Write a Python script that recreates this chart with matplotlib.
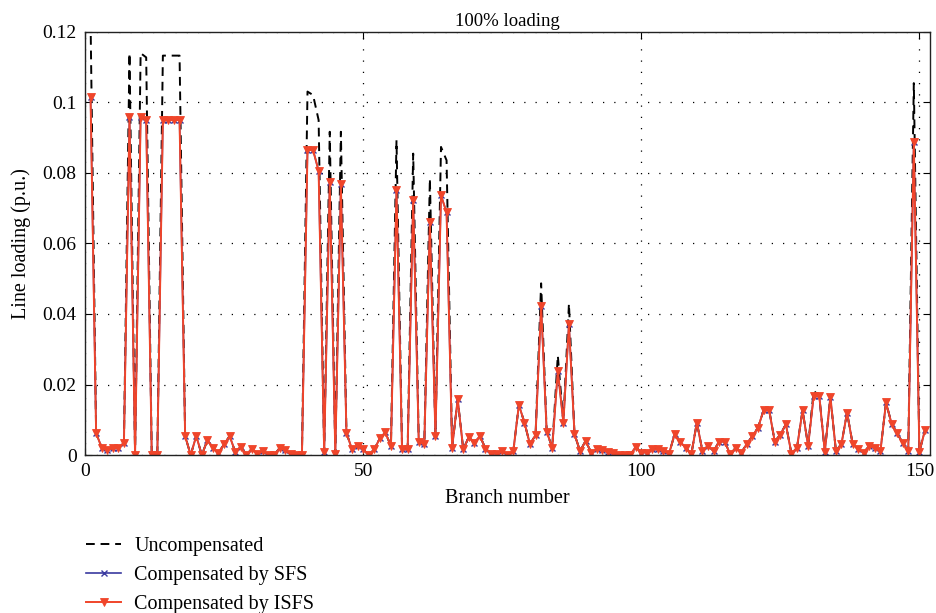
import matplotlib
matplotlib.use("Agg")
import matplotlib.pyplot as plt
import numpy as np

branches = list(range(1, 152))

compensated = [
    0.1016, 0.0062, 0.0021, 0.0013, 0.0020, 0.0020, 0.0035, 0.0960, 0.0000, 0.0960,
    0.0950, 0.0000, 0.0000, 0.0950, 0.0950, 0.0950, 0.0950, 0.0054, 0.0000, 0.0054,
    0.0000, 0.0042, 0.0021, 0.0007, 0.0030, 0.0054, 0.0009, 0.0024, 0.0000, 0.0018,
    0.0002, 0.0011, 0.0000, 0.0000, 0.0020, 0.0013, 0.0002, 0.0000, 0.0000, 0.0865,
    0.0865, 0.0806, 0.0008, 0.0774, 0.0004, 0.0768, 0.0063, 0.0016, 0.0026, 0.0016,
    0.0000, 0.0016, 0.0047, 0.0064, 0.0025, 0.0751, 0.0016, 0.0016, 0.0723, 0.0038,
    0.0030, 0.0661, 0.0054, 0.0737, 0.0688, 0.0021, 0.0158, 0.0016, 0.0051, 0.0035,
    0.0054, 0.0018, 0.0004, 0.0004, 0.0011, 0.0000, 0.0011, 0.0142, 0.0092, 0.0030,
    0.0057, 0.0424, 0.0066, 0.0021, 0.0239, 0.0092, 0.0372, 0.0059, 0.0011, 0.0040,
    0.0007, 0.0016, 0.0014, 0.0008, 0.0005, 0.0000, 0.0000, 0.0000, 0.0023, 0.0007,
    0.0007, 0.0016, 0.0016, 0.0011, 0.0004, 0.0059, 0.0037, 0.0021, 0.0002, 0.0092,
    0.0011, 0.0026, 0.0011, 0.0038, 0.0038, 0.0002, 0.0021, 0.0007, 0.0032, 0.0054,
    0.0078, 0.0127, 0.0127, 0.0038, 0.0058, 0.0087, 0.0004, 0.0021, 0.0127, 0.0026,
    0.0168, 0.0168, 0.0009, 0.0165, 0.0011, 0.0032, 0.0120, 0.0032, 0.0016, 0.0007,
    0.0026, 0.0019, 0.0011, 0.0149, 0.0089, 0.0061, 0.0035, 0.0011, 0.0889, 0.0009,
    0.0070,
]

# Uncompensated values where they differ from the compensated ones
uncomp_peaks = {
    1: 0.1230, 8: 0.1140, 10: 0.1140, 11: 0.1128, 14: 0.1133, 15: 0.1133,
    16: 0.1133, 17: 0.1133, 40: 0.1031, 41: 0.1021, 42: 0.0950, 44: 0.0917,
    46: 0.0917, 56: 0.0893, 59: 0.0855, 62: 0.0784, 64: 0.0874, 65: 0.0836,
    82: 0.0487, 85: 0.0282, 87: 0.0429, 131: 0.0182, 149: 0.1055,
}
uncompensated = [uncomp_peaks.get(b, v) for b, v in zip(branches, compensated)]
sfs = list(compensated)
isfs = list(compensated)

x_ticks = [0, 50, 100, 150]
y_ticks = [0, 0.02, 0.04, 0.06, 0.08, 0.1, 0.12]
y_ticklabels = ["0", "0.02", "0.04", "0.06", "0.08", "0.1", "0.12"]

plt.rcParams['font.family'] = ['Liberation Serif', 'DejaVu Serif']

fig = plt.figure(figsize=(9.37, 6.13), dpi=100)
ax = fig.add_axes([85/937, 1-455/613, (930.5-85)/937, (455-32)/613])

red = '#f0452a'
blue = '#3a3aa0'

l1, = ax.plot(branches, uncompensated, color='black', lw=1.4, ls=(0, (4.5, 3)),
              label='Uncompensated')
l2, = ax.plot(branches, sfs, color=blue, lw=1.2, marker='x', ms=4.5, mew=1.0,
              label='Compensated by SFS')
l3, = ax.plot(branches, isfs, color=red, lw=1.4, marker='v', ms=5.5, mew=0.6,
              mec=red, label='Compensated by ISFS')

ax.set_xlim(0, 152)
ax.set_ylim(0, 0.12)
ax.set_xticks(x_ticks)
ax.set_yticks(y_ticks)
ax.set_yticklabels(y_ticklabels)
ax.tick_params(direction='in', top=True, right=True, labelsize=14, length=5,
               width=0.8, pad=6)
ax.grid(True, ls=(0, (1, 8)), color='black', lw=0.9)
for s in ax.spines.values():
    s.set_linewidth(1.0)
    s.set_color('#222222')

ax.set_title('100% loading', fontsize=13.5, pad=4)
ax.set_xlabel('Branch number', fontsize=14.5, labelpad=6)
ax.set_ylabel('Line loading (p.u.)', fontsize=14.5, labelpad=8)

fig.legend(handles=[l1, l2, l3], loc='upper left',
           bbox_to_anchor=(78/937, 1-529/613), frameon=False, fontsize=14.5,
           handlelength=1.75, handletextpad=0.65, labelspacing=0.48,
           borderaxespad=0)

fig.savefig('out.png', dpi=100)
